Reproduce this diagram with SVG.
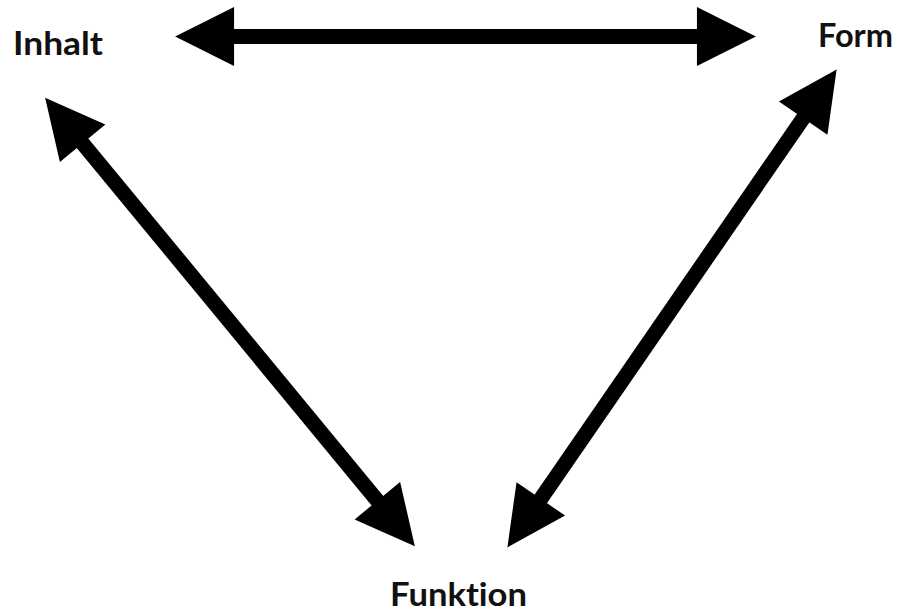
<svg xmlns="http://www.w3.org/2000/svg" width="903" height="614" viewBox="0 0 903 614">
  <style>
    .label { font-family: Lato, "Liberation Sans", sans-serif; font-weight: 700; font-size: 33px; fill: #111; font-variant-ligatures: none; }
    .link { stroke: #000; stroke-width: 15; fill: none; marker-start: url(#head); marker-end: url(#head); }
  </style>
  <defs>
    <!-- solid triangular head: base at x=0, tip at x=55; the shaft ends 40 units short of the tip -->
    <marker id="head" markerUnits="userSpaceOnUse" markerWidth="60" markerHeight="60"
            viewBox="0 -28 56 56" refX="15" refY="0" orient="auto-start-reverse" overflow="visible">
      <path d="M0,-27.5 L55,0 L0,27.5 Z" fill="#000"/>
    </marker>
  </defs>

  <g id="connectors">
    <line class="link" x1="218" y1="36.5" x2="713" y2="36.5"/>
    <line class="link" x1="72.4" y1="130.9" x2="387.6" y2="513.1"/>
    <line class="link" x1="812.3" y1="104.9" x2="531.7" y2="512.1"/>
  </g>

  <g id="inhalt">
    <text class="label" x="13" y="55" textLength="90" lengthAdjust="spacingAndGlyphs">Inhalt</text>
  </g>
  <g id="form">
    <text class="label" x="818" y="47" textLength="75" lengthAdjust="spacingAndGlyphs">Form</text>
  </g>
  <g id="funktion">
    <text class="label" x="390" y="606" textLength="137" lengthAdjust="spacingAndGlyphs">Funktion</text>
  </g>
</svg>
